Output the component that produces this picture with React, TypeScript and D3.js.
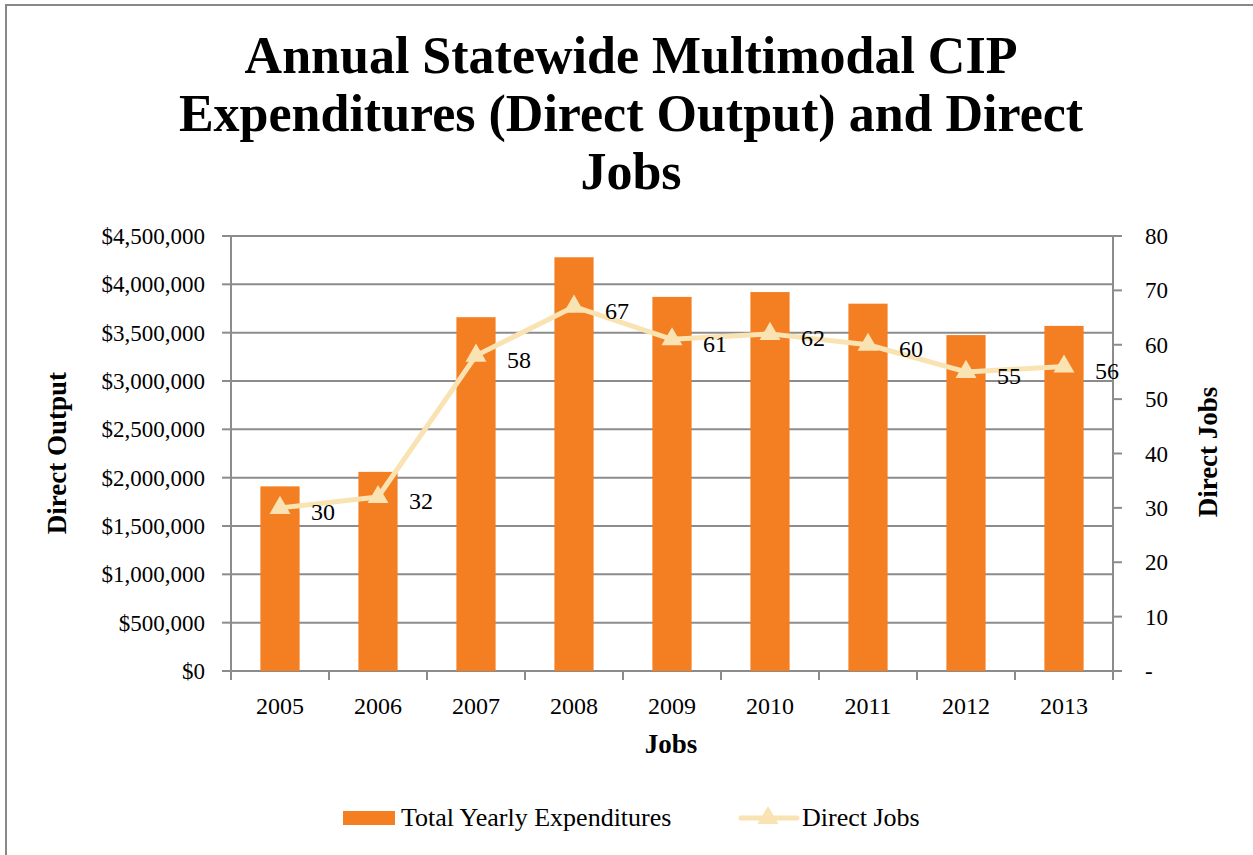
import React from "react";
import * as d3 from "d3";

const years = ["2005", "2006", "2007", "2008", "2009", "2010", "2011", "2012", "2013"];
const expenditures = [1910000, 2060000, 3660000, 4280000, 3870000, 3920000, 3800000, 3475000, 3570000];
const directJobs = [30, 32, 58, 67, 61, 62, 60, 55, 56];
const leftTicks = [0, 500000, 1000000, 1500000, 2000000, 2500000, 3000000, 3500000, 4000000, 4500000];
const rightTicks = [0, 10, 20, 30, 40, 50, 60, 70, 80];
const titleLines = ["Annual Statewide Multimodal CIP", "Expenditures (Direct Output) and Direct", "Jobs"];

const W = 1253;
const H = 855;
const plot = { left: 231, right: 1113, top: 236, bottom: 671 };
const FONT = "'Liberation Serif', 'Times New Roman', serif";
const GRID = "#8c8c8c";
const BAR = "#F47E22";
const LINE = "#FAE3B2";

export default function App() {
  const x = d3.scaleBand().domain(years).range([plot.left, plot.right]).paddingInner(0.6).paddingOuter(0.3);
  const band = d3.scaleBand().domain(years).range([plot.left, plot.right]);
  const yL = d3.scaleLinear().domain([0, 4500000]).range([plot.bottom, plot.top]);
  const yR = d3.scaleLinear().domain([0, 80]).range([plot.bottom, plot.top]);
  const fmt = (v: number) => "$" + d3.format(",")(v);
  const cx = (yr: string) => (band(yr) as number) + band.bandwidth() / 2;
  const line = d3.line<number>().x((_, i) => cx(years[i])).y((d) => yR(d));
  const tri = d3.symbol().type(d3.symbolTriangle).size(190)();
  const boundaries = [...years.map((yr) => band(yr) as number), plot.right];

  return (
    <svg width={W} height={H} style={{ position: "absolute", left: 0, top: 0, background: "#fff" }} fontFamily={FONT}>
      <rect x={0} y={0} width={W} height={H} fill="#fff" />
      <rect x={6} y={5} width={W + 20} height={H + 20} fill="none" stroke="#888" strokeWidth={2} />
      {titleLines.map((t, i) => (
        <text key={t} x={631} y={73 + i * 58} textAnchor="middle" fontSize={52} fontWeight="bold" fill="#000">
          {t}
        </text>
      ))}
      {leftTicks.map((t) => (
        <g key={"g" + t}>
          <line x1={plot.left} x2={plot.right} y1={yL(t)} y2={yL(t)} stroke={GRID} strokeWidth={2} />
          <line x1={plot.left - 9} x2={plot.left} y1={yL(t)} y2={yL(t)} stroke={GRID} strokeWidth={2} />
          <text x={205} y={yL(t)} dy="0.35em" textAnchor="end" fontSize={23} fill="#000">
            {fmt(t)}
          </text>
        </g>
      ))}
      {rightTicks.map((t) => (
        <g key={"r" + t}>
          <line x1={plot.right} x2={plot.right + 9} y1={yR(t)} y2={yR(t)} stroke={GRID} strokeWidth={2} />
          <text x={1145} y={yR(t)} dy="0.35em" textAnchor="start" fontSize={23} fill="#000">
            {t === 0 ? "-" : t}
          </text>
        </g>
      ))}
      <line x1={plot.left} x2={plot.left} y1={plot.top} y2={plot.bottom + 9} stroke={GRID} strokeWidth={2} />
      <line x1={plot.right} x2={plot.right} y1={plot.top} y2={plot.bottom + 9} stroke={GRID} strokeWidth={2} />
      {boundaries.map((b, i) => (
        <line key={"xt" + i} x1={b} x2={b} y1={plot.bottom} y2={plot.bottom + 9} stroke={GRID} strokeWidth={2} />
      ))}
      {years.map((yr, i) => (
        <rect key={"b" + yr} x={x(yr)} y={yL(expenditures[i])} width={x.bandwidth()} height={plot.bottom - yL(expenditures[i])} fill={BAR} />
      ))}
      {years.map((yr) => (
        <text key={"xl" + yr} x={cx(yr)} y={714} textAnchor="middle" fontSize={24} fill="#000">
          {yr}
        </text>
      ))}
      <path d={line(directJobs) || ""} fill="none" stroke={LINE} strokeWidth={5} strokeLinejoin="round" />
      {directJobs.map((v, i) => (
        <path key={"m" + i} d={tri || ""} transform={`translate(${cx(years[i])},${yR(v)})`} fill={LINE} />
      ))}
      {directJobs.map((v, i) => (
        <text key={"dl" + i} x={cx(years[i]) + 31} y={yR(v) + 4} dy="0.35em" fontSize={24} fill="#000">
          {v}
        </text>
      ))}
      <text x={671} y={753} textAnchor="middle" fontSize={27} fontWeight="bold">Jobs</text>
      <text transform="translate(66,453) rotate(-90)" textAnchor="middle" fontSize={27} fontWeight="bold">Direct Output</text>
      <text transform="translate(1217,452) rotate(-90)" textAnchor="middle" fontSize={27} fontWeight="bold">Direct Jobs</text>
      <rect x={343} y={811} width={52} height={14} fill={BAR} />
      <text x={401} y={826} fontSize={26} fill="#000">Total Yearly Expenditures</text>
      <line x1={741} x2={797} y1={818} y2={818} stroke={LINE} strokeWidth={5} strokeLinecap="round" />
      <path d={tri || ""} transform="translate(768,818)" fill={LINE} />
      <text x={802} y={826} fontSize={26} fill="#000">Direct Jobs</text>
    </svg>
  );
}
